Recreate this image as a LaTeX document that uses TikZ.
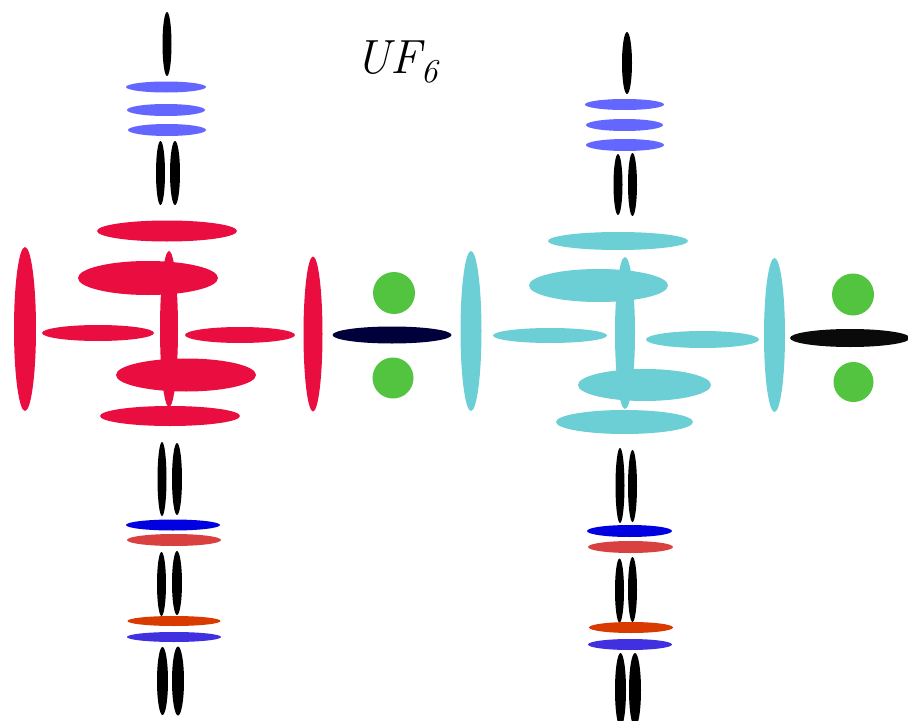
\documentclass[tikz,border=0pt]{standalone}
\usepackage{fontspec}
\definecolor{crim}{HTML}{EA0E40}
\definecolor{aqua}{HTML}{6CCFD6}
\definecolor{lav}{HTML}{6366FF}
\definecolor{leaf}{HTML}{52C43F}
\definecolor{navy}{HTML}{00003A}
\definecolor{pblue}{HTML}{0000E0}
\definecolor{pred}{HTML}{D94040}
\definecolor{porange}{HTML}{D93A00}
\definecolor{pviolet}{HTML}{4030E0}
\definecolor{ink}{HTML}{0A0A0A}
% filled ellipse: centre x, centre y, x radius, y radius, colour
\newcommand{\blob}[5]{\fill[#5] (#1,#2) ellipse [x radius=#3, y radius=#4];}
\begin{document}
\begin{tikzpicture}[x=0.75pt,y=-0.75pt]
\useasboundingbox (0,0) rectangle (908,721);
\fill[white] (0,0) rectangle (908,721);

% label
\node[anchor=base west,inner sep=0pt] (label) at (355,73)
  {\fontsize{36}{40}\selectfont\itshape UF\raisebox{-7pt}{\fontsize{25}{28}\selectfont 6}};

% ---------- left molecule ----------
% upper chain
\blob{167}{44}{4.5}{32}{black}
\blob{166}{87}{40}{5.5}{lav}
\blob{166}{110}{39}{6}{lav}
\blob{167}{130}{39}{6}{lav}
\blob{160.5}{173}{4.5}{32}{black}
\blob{175}{173}{5}{32}{black}
% core
\blob{167}{231}{70}{10.5}{crim}
\blob{25}{329}{11}{82}{crim}
\blob{148}{278}{70}{17}{crim}
\blob{98}{333}{56}{8}{crim}
\blob{240}{335}{55}{8}{crim}
\blob{186}{375}{70}{16.5}{crim}
\blob{170}{416}{70}{10}{crim}
\blob{169}{329}{9}{78}{crim}
\blob{313}{334}{9.5}{77.5}{crim}
% side group
\blob{392}{335}{59.5}{8.5}{navy}
\fill[leaf] (394,293) circle [radius=21];
\fill[leaf] (393,378) circle [radius=20.5];
% lower chain
\blob{162}{479}{4.5}{37}{black}
\blob{177}{479}{5}{36}{black}
\blob{173}{525}{47}{5.5}{pblue}
\blob{174}{540}{47}{6}{pred}
\blob{161.5}{584}{4.5}{32}{black}
\blob{177}{583}{5}{32}{black}
\blob{174}{621}{46.5}{5}{porange}
\blob{174}{637}{47}{5}{pviolet}
\blob{162.5}{681}{5.5}{34}{black}
\blob{178}{681}{6}{34.5}{black}

% ---------- right molecule ----------
% upper chain
\blob{627}{63}{5}{31}{black}
\blob{624.5}{104.5}{39.5}{5.5}{lav}
\blob{624.5}{125}{38.5}{6}{lav}
\blob{625}{145}{39}{6}{lav}
\blob{618}{184.5}{4.5}{30.5}{black}
\blob{632.5}{184.5}{4.5}{31.5}{black}
% core
\blob{618}{241}{70}{9}{aqua}
\blob{471}{331}{10.5}{80}{aqua}
\blob{598.5}{285.5}{69.5}{16.5}{aqua}
\blob{550}{335.5}{57}{7.5}{aqua}
\blob{702.5}{339.5}{56.5}{8.5}{aqua}
\blob{644.5}{385}{66.5}{16}{aqua}
\blob{624.5}{422}{68.5}{12}{aqua}
\blob{625}{333}{10}{76}{aqua}
\blob{774.5}{335}{10.5}{77}{aqua}
% side group
\blob{850}{338}{60}{9}{ink}
\fill[leaf] (853,294.5) circle [radius=21];
\fill[leaf] (853.5,382) circle [radius=20];
% lower chain
\blob{620}{485.5}{4.5}{37.5}{black}
\blob{632.5}{486}{4.5}{36}{black}
\blob{629.5}{531}{42.5}{6}{pblue}
\blob{630.5}{547}{42.5}{6}{pred}
\blob{619.5}{590.5}{4.5}{32}{black}
\blob{632.5}{589.5}{4.5}{32.5}{black}
\blob{631}{627.5}{42}{5.5}{porange}
\blob{630}{644.5}{42}{5.5}{pviolet}
\blob{620.5}{690}{5.5}{37}{black}
\blob{635}{690}{6}{37}{black}
\end{tikzpicture}
\end{document}
